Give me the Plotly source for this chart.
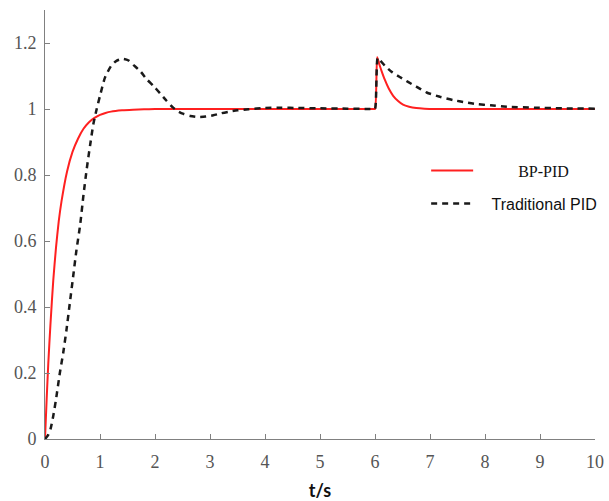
import plotly.graph_objects as go

# BP-PID response
bp_t = [0, 0.03, 0.06, 0.1, 0.15, 0.2, 0.25, 0.3, 0.4, 0.5, 0.6, 0.7, 0.8, 0.9,
        1.0, 1.1, 1.2, 1.4, 1.6, 1.8, 2.0, 3.0, 4.0, 5.0, 5.9, 5.97, 6.0, 6.04, 6.08, 6.12,
        6.18, 6.25, 6.33, 6.42, 6.51, 6.62, 6.75, 6.9, 7.1, 7.5, 8.0, 9.0, 10.0]
bp_y = [0, 0.12, 0.23, 0.35, 0.48, 0.58, 0.66, 0.72, 0.81, 0.87, 0.91, 0.94, 0.96, 0.973,
        0.982, 0.988, 0.992, 0.996, 0.998, 0.999, 1.0, 1.0, 1.0, 1.0, 1.0, 1.0, 1.0, 1.157, 1.135, 1.115,
        1.088, 1.062, 1.040, 1.024, 1.013, 1.007, 1.003, 1.001, 1.0, 1.0, 1.0, 1.0, 1.0]

# Traditional PID response
tr_t = [0, 0.05, 0.1, 0.15, 0.2, 0.27, 0.33, 0.39, 0.45, 0.51, 0.57, 0.64, 0.7, 0.76,
        0.82, 0.88, 0.94, 1.0, 1.09, 1.2, 1.3, 1.42, 1.52, 1.61, 1.73, 1.85, 1.97, 2.09,
        2.21, 2.33, 2.43, 2.52, 2.64, 2.78, 2.92, 3.06, 3.2, 3.35, 3.5, 3.7, 4.0, 4.3,
        4.6, 5.0, 5.5, 5.9, 5.97, 6.0, 6.05, 6.1, 6.18, 6.3, 6.45, 6.6, 6.75, 6.94, 7.18, 7.42,
        7.65, 7.85, 8.1, 8.4, 8.9, 9.4, 10.0]
tr_y = [0, 0.01, 0.03, 0.07, 0.12, 0.2, 0.26, 0.33, 0.41, 0.49, 0.57, 0.65, 0.74, 0.82,
        0.89, 0.955, 1.0, 1.04, 1.095, 1.13, 1.146, 1.152, 1.147, 1.133, 1.115, 1.09, 1.07, 1.048,
        1.025, 1.004, 0.992, 0.985, 0.979, 0.976, 0.977, 0.981, 0.987, 0.992, 0.996, 0.999, 1.003, 1.004,
        1.003, 1.002, 1.001, 1.0, 1.0, 1.0, 1.155, 1.146, 1.131, 1.113, 1.097, 1.082, 1.068, 1.05, 1.037, 1.027,
        1.020, 1.015, 1.011, 1.007, 1.004, 1.002, 1.001]

x_ticks = [0, 1, 2, 3, 4, 5, 6, 7, 8, 9, 10]
y_ticks = [0, 0.2, 0.4, 0.6, 0.8, 1.0, 1.2]
y_labels = ["0", "0.2", "0.4", "0.6", "0.8", "1", "1.2"]

NB = "\u00a0"
fig = go.Figure()
fig.add_trace(go.Scatter(
    x=bp_t, y=bp_y, mode="lines",
    name='<span style="font-family:\'Liberation Serif\'">' + NB * 10 + 'BP-PID</span>',
    line=dict(color="#ff2020", width=2, shape="spline", smoothing=0.6),
    legendgroup="a"))
fig.add_trace(go.Scatter(
    x=tr_t, y=tr_y, mode="lines",
    name='<span style="font-family:\'Liberation Sans\'">' + NB * 3 + 'Traditional PID</span>',
    line=dict(color="#1a1a1a", width=2.5, dash="6px,5px", shape="spline", smoothing=0.6),
    legendgroup="b"))

axis_font = dict(family="Liberation Serif", size=18, color="#555555")
fig.update_layout(
    width=609, height=501,
    margin=dict(l=45, r=14, t=10, b=62, autoexpand=False),
    paper_bgcolor="white", plot_bgcolor="white",
    showlegend=True,
    legend=dict(x=0.693, y=0.665, xanchor="left", yanchor="top",
                bgcolor="rgba(0,0,0,0)", font=dict(size=16, color="#111111"),
                traceorder="grouped", tracegroupgap=9, itemwidth=42),
    xaxis=dict(range=[0, 10], tickvals=x_ticks, ticks="inside", ticklen=5,
               tickcolor="#808080", showline=True, linecolor="#808080", linewidth=1,
               showgrid=False, zeroline=False, tickfont=axis_font, ticklabelstandoff=6,
               automargin=False,
               title=dict(text="<b>t/s</b>", font=dict(family="Lato", size=18, color="#111111"),
                          standoff=14)),
    yaxis=dict(range=[0, 1.3], tickvals=y_ticks, ticktext=y_labels, ticks="inside", ticklen=5,
               tickcolor="#808080", showline=True, linecolor="#808080", linewidth=1,
               showgrid=False, zeroline=False, tickfont=axis_font, ticklabelstandoff=4,
               automargin=False),
)

fig.write_html(
    "out.html",
    config={"displayModeBar": False, "responsive": False},
    post_script=("document.body.style.margin='0';"
                 "document.body.style.overflow='hidden';"
                 "document.documentElement.style.overflow='hidden';"),
)
